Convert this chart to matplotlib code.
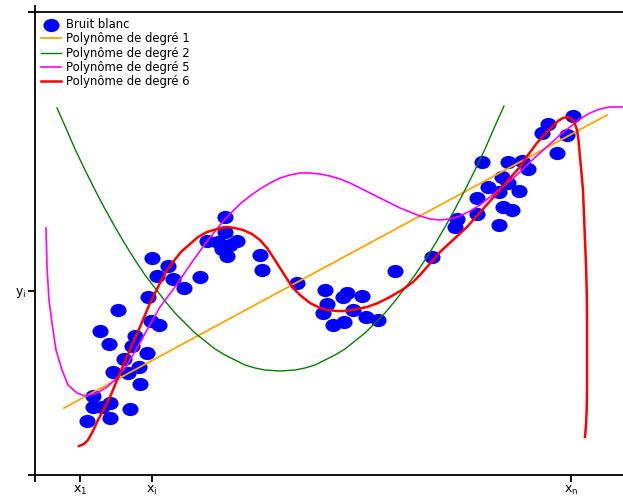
"""Bruit blanc et ajustements polynomiaux"""

import matplotlib
matplotlib.use('Agg')
import matplotlib.pyplot as plt
from matplotlib.path import Path
from matplotlib.transforms import Affine2D

plt.rcParams['mathtext.default'] = 'regular'

# Noisy samples (x, y)
noise_x = [52, 58, 58, 67, 75, 75, 95, 105, 78, 93, 104, 89, 74, 97, 112, 100, 65, 83,
           116, 124, 113, 117, 122, 133, 138, 149, 165, 172, 183, 190, 190, 202, 187,
           192, 195, 225, 227, 262, 290, 292, 288, 298, 309, 308, 312, 327, 318, 331,
           343, 360, 397, 420, 422, 442, 442, 447, 453, 464, 467, 473, 464, 468, 477,
           484, 473, 487, 493, 507, 513, 522, 532, 538]
noise_y = [54, 79, 68, 68, 72, 57, 66, 91, 103, 102, 108, 116, 131, 129, 122, 139, 144, 165,
           154, 150, 178, 217, 199, 209, 196, 187, 198, 234, 233, 258, 243, 234, 226,
           219, 230, 220, 205, 192, 185, 171, 162, 150, 153, 178, 182, 179, 165, 158,
           155, 204, 218, 248, 256, 261, 277, 313, 288, 283, 298, 292, 250, 268, 265,
           284, 313, 314, 306, 342, 351, 322, 340, 359]

# Degree 1
deg1_x = [29, 572]
deg1_y = [67, 360]

# Degree 2
deg2_x = [22, 30, 40, 50, 60, 70, 80, 90, 100, 110, 120, 130, 140, 150, 160, 170, 180,
          190, 200, 210, 220, 230, 245, 260, 270, 280, 290, 300, 310, 320, 330, 340, 350,
          360, 370, 380, 390, 400, 410, 420, 430, 440, 450, 460, 469]
deg2_y = [367, 349, 326, 305, 285, 266, 248, 231, 215, 200, 187, 174, 162, 152, 142, 134,
          126, 120, 115, 110, 107, 105, 104, 105, 107, 110, 115, 120, 126, 134, 142, 152,
          162, 174, 187, 200, 215, 231, 248, 266, 285, 305, 326, 349, 369]

# Degree 5
deg5_x = [11, 12, 14, 17, 21, 27, 33, 42, 50, 62, 72, 82, 92, 102, 112, 125, 140, 155,
          170, 185, 195, 205, 215, 225, 235, 245, 255, 265, 275, 285, 295, 305, 315, 325,
          335, 345, 355, 365, 375, 385, 395, 405, 415, 425, 435, 445, 455, 465, 475, 485,
          495, 505, 515, 525, 535, 545, 555, 565, 575, 588]
deg5_y = [247, 208, 175, 152, 125, 105, 90, 82, 79, 82, 88, 97, 110, 127, 145, 168, 188,
          210, 231, 250, 261, 271, 279, 286, 292, 297, 300, 302, 302, 301, 299, 296, 292,
          287, 282, 277, 272, 267, 263, 259, 256, 255, 256, 259, 264, 270, 278, 286, 294,
          303, 313, 322, 331, 340, 348, 356, 362, 366, 368, 368]

# Degree 6
deg6_x = [44, 49, 53, 58, 63, 69, 75, 80, 85, 90, 95, 100, 105, 110, 115, 120, 125, 131,
          138, 146, 155, 163, 172, 182, 192, 200, 208, 217, 225, 232, 238, 245, 252, 258,
          265, 275, 283, 292, 302, 312, 322, 332, 343, 355, 367, 378, 385, 392, 399, 405,
          418, 432, 448, 465, 475, 485, 493, 502, 510, 518, 523, 528, 533, 537, 540, 542,
          543.5, 545, 546.5, 548, 549, 550, 551, 551.7, 552, 552, 552, 552, 551.7, 551, 550]
deg6_y = [29, 31, 35, 44, 55, 66, 78, 90, 102, 114, 125, 137, 148, 160, 172, 182, 192, 203,
          213, 223, 231, 238, 243, 246, 248, 247, 245, 241, 235, 227, 218, 207, 196, 187,
          180, 172, 168, 165, 164, 164, 166, 168, 172, 178, 185, 193, 200, 208, 216, 223,
          235, 248, 266, 285, 297, 308, 320, 332, 341, 349, 354, 357, 358, 356, 351, 345,
          335, 318, 302, 285, 260, 235, 210, 185, 160, 135, 110, 85, 65, 50, 38]

xtick_pos = [0, 45, 117, 536]
xtick_lab = ['', '$x_1$', '$x_i$', '$x_n$']
ytick_pos = [0, 184, 463]
ytick_lab = ['', '$y_i$', '']

# oval marker, a bit wider than tall
oval = Path.unit_circle().transformed(Affine2D().scale(1.0, 0.82))

fig = plt.figure(figsize=(6.23, 4.96), dpi=100)
ax = fig.add_axes([35 / 623, 21 / 496, 588 / 623, 463 / 496])

pts = ax.scatter(noise_x, noise_y, s=135, marker=oval, color='blue', linewidths=0,
                 label='Bruit blanc')
l1, = ax.plot(deg1_x, deg1_y, color='orange', lw=1.3, label='Polynôme de degré 1')
l2, = ax.plot(deg2_x, deg2_y, color='green', lw=1.0, label='Polynôme de degré 2')
l5, = ax.plot(deg5_x, deg5_y, color='magenta', lw=1.2, label='Polynôme de degré 5')
l6, = ax.plot(deg6_x, deg6_y, color='red', lw=1.8, label='Polynôme de degré 6')

ax.set_xlim(0, 588)
ax.set_ylim(0, 463)
ax.set_xticks(xtick_pos, xtick_lab)
ax.set_yticks(ytick_pos, ytick_lab)
ax.tick_params(length=5, width=1.3, labelsize=9, pad=1.5)
ax.spines['right'].set_visible(False)
for side in ['left', 'top', 'bottom']:
    ax.spines[side].set_linewidth(1.3)

# little tick on top of the y axis
top = ax.secondary_xaxis('top')
top.set_xticks([0], [''])
top.tick_params(length=5, width=1.3)
top.spines['top'].set_visible(False)

ax.legend(handles=[pts, l1, l2, l5, l6], loc='upper left', frameon=False, fontsize=8.4,
          borderaxespad=0.1, handlelength=1.7, handletextpad=0.5, labelspacing=0.12)

plt.savefig('out.png', dpi=100)
